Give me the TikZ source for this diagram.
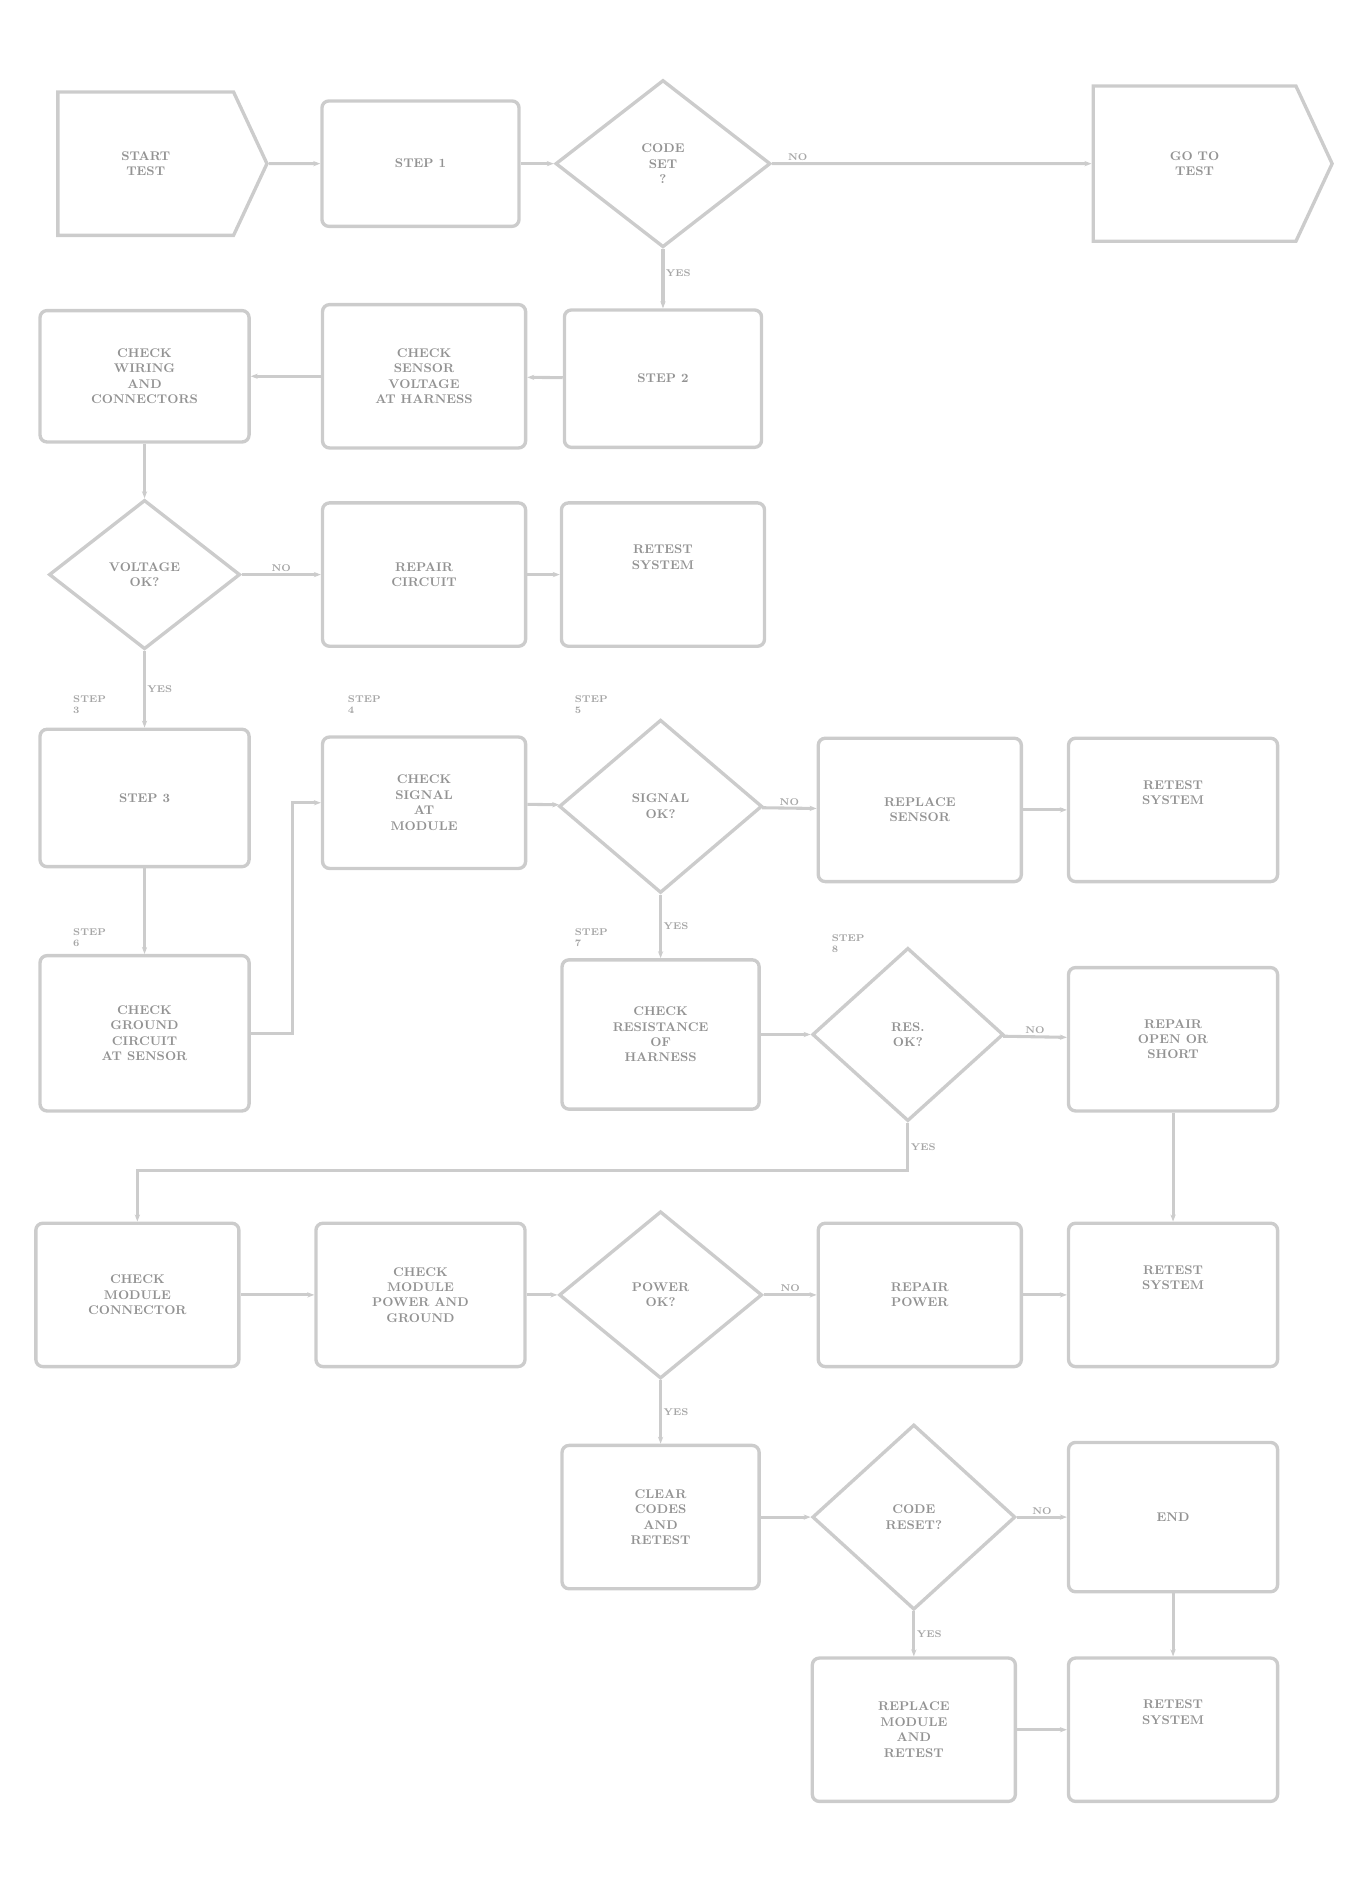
\documentclass[tikz,border=0pt]{standalone}
\usetikzlibrary{shapes.geometric,shapes.symbols,arrows.meta}

\tikzset{
    box/.style = {draw = gray!40, line width = 2.4pt, rounded corners = 5pt, align = center,
                  font = \bfseries\small, text = gray!85, inner sep = 2pt},
    ask/.style = {draw = gray!40, line width = 2.4pt, diamond, inner sep = 0pt, align = center,
                  font = \bfseries\small, text = gray!85},
    term/.style = {draw = gray!40, line width = 2.4pt, signal, signal to = east,
                   signal pointer angle = 130, align = center, inner sep = 2pt,
                   font = \bfseries\small, text = gray!85},
    link/.style = {draw = gray!40, line width = 2.2pt, -{Stealth[length = 5pt]}},
    tag/.style = {font = \bfseries\scriptsize, text = gray!70, inner sep = 1pt}
}

\begin{document}
\begin{tikzpicture}[x = 0.03cm, y = -0.03cm]
        \useasboundingbox (0, 0) rectangle (1130, 1578); % Поля страницы

        % Ряд 1
        \node [term, minimum width = 5.25cm, minimum height = 3.6cm] (start) at (122, 137) {START\\TEST};
        \node [box, minimum width = 4.95cm, minimum height = 3.15cm] (b1) at (352, 137) {STEP 1};
        \node [ask, minimum width = 5.4cm, minimum height = 4.2cm] (d1) at (555, 137) {CODE\\SET\\?};
        \node [term, minimum width = 6cm, minimum height = 3.9cm] (stop) at (1000, 137) {GO TO\\TEST};

        % Ряд 2
        \node [box, minimum width = 5.25cm, minimum height = 3.3cm] (a2) at (121, 315) {CHECK\\WIRING\\AND\\CONNECTORS};
        \node [box, minimum width = 5.1cm, minimum height = 3.6cm] (b2) at (355, 315) {CHECK\\SENSOR\\VOLTAGE\\AT HARNESS};
        \node [box, minimum width = 4.95cm, minimum height = 3.45cm] (c2) at (555, 317) {STEP 2};

        % Ряд 3
        \node [ask, minimum width = 4.8cm, minimum height = 3.75cm] (d2) at (121, 481) {VOLTAGE\\OK?};
        \node [box, minimum width = 5.1cm, minimum height = 3.6cm] (b3) at (355, 481) {REPAIR\\CIRCUIT};
        \node [box, minimum width = 5.1cm, minimum height = 3.6cm] (c3) at (555, 481) {RETEST\\SYSTEM\\[14pt]};

        % Ряд 4
        \node [box, minimum width = 5.25cm, minimum height = 3.45cm] (a4) at (121, 668) {STEP 3};
        \node [box, minimum width = 5.1cm, minimum height = 3.3cm] (b4) at (355, 672) {CHECK\\SIGNAL\\AT\\MODULE};
        \node [ask, minimum width = 5.1cm, minimum height = 4.35cm] (d3) at (553, 675) {SIGNAL\\OK?};
        \node [box, minimum width = 5.1cm, minimum height = 3.6cm] (e4) at (770, 678) {REPLACE\\SENSOR};
        \node [box, minimum width = 5.25cm, minimum height = 3.6cm] (f4) at (982, 678) {RETEST\\SYSTEM\\[14pt]};

        % Ряд 5
        \node [box, minimum width = 5.25cm, minimum height = 3.9cm] (a5) at (121, 865) {CHECK\\GROUND\\CIRCUIT\\AT SENSOR};
        \node [box, minimum width = 4.95cm, minimum height = 3.75cm] (c5) at (553, 866) {CHECK\\RESISTANCE\\OF\\HARNESS};
        \node [ask, minimum width = 4.8cm, minimum height = 4.35cm] (d4) at (760, 866) {RES.\\OK?};
        \node [box, minimum width = 5.25cm, minimum height = 3.6cm] (f5) at (982, 870) {REPAIR\\OPEN OR\\SHORT};

        % Ряд 6
        \node [box, minimum width = 5.1cm, minimum height = 3.6cm] (a6) at (115, 1084) {CHECK\\MODULE\\CONNECTOR};
        \node [box, minimum width = 5.25cm, minimum height = 3.6cm] (b6) at (352, 1084) {CHECK\\MODULE\\POWER AND\\GROUND};
        \node [ask, minimum width = 5.1cm, minimum height = 4.2cm] (d5) at (553, 1084) {POWER\\OK?};
        \node [box, minimum width = 5.1cm, minimum height = 3.6cm] (e6) at (770, 1084) {REPAIR\\POWER};
        \node [box, minimum width = 5.25cm, minimum height = 3.6cm] (f6) at (982, 1084) {RETEST\\SYSTEM\\[14pt]};

        % Ряд 7
        \node [box, minimum width = 4.95cm, minimum height = 3.6cm] (c7) at (553, 1270) {CLEAR\\CODES\\AND\\RETEST};
        \node [ask, minimum width = 5.1cm, minimum height = 4.65cm] (d6) at (765, 1270) {CODE\\RESET?};
        \node [box, minimum width = 5.25cm, minimum height = 3.75cm] (f7) at (982, 1270) {END};

        % Ряд 8
        \node [box, minimum width = 5.1cm, minimum height = 3.6cm] (e8) at (765, 1448) {REPLACE\\MODULE\\AND\\RETEST};
        \node [box, minimum width = 5.25cm, minimum height = 3.6cm] (f8) at (982, 1448) {RETEST\\SYSTEM\\[14pt]};

        % Надписи над блоками
        \node [tag, align = left] (t4a) at (75, 590) {STEP\\3};
        \node [tag, align = left] (t4b) at (305, 590) {STEP\\4};
        \node [tag, align = left] (t4d) at (495, 590) {STEP\\5};
        \node [tag, align = left] (t5a) at (75, 785) {STEP\\6};
        \node [tag, align = left] (t5c) at (495, 785) {STEP\\7};
        \node [tag, align = left] (t5d) at (710, 790) {STEP\\8};

        % Точки изломов
        \coordinate (a5turn) at (245, 865);
        \coordinate (d4turn) at (760, 980);

        % Соединения
        \draw [link] (start) -- (b1);
        \draw [link] (b1) -- (d1);
        \draw [link] (d1) -- node [tag, above, pos = 0.08] {NO} (stop);
        \draw [link] (d1) -- node [tag, right, pos = 0.4] {YES} (c2);
        \draw [link] (c2) -- (b2);
        \draw [link] (b2) -- (a2);
        \draw [link] (a2) -- (d2);
        \draw [link] (d2) -- node [tag, above] {NO} (b3);
        \draw [link] (b3) -- (c3);
        \draw [link] (d2) -- node [tag, right] {YES} (a4);
        \draw [link] (a4) -- (a5);
        \draw [link] (a5) -- (a5turn) |- (b4);
        \draw [link] (b4) -- (d3);
        \draw [link] (d3) -- node [tag, above] {NO} (e4);
        \draw [link] (e4) -- (f4);
        \draw [link] (d3) -- node [tag, right] {YES} (c5);
        \draw [link] (c5) -- (d4);
        \draw [link] (d4) -- node [tag, above] {NO} (f5);
        \draw [link] (f5) -- (f6);
        \draw [link] (d4) -- node [tag, right] {YES} (d4turn) -| (a6);
        \draw [link] (a6) -- (b6);
        \draw [link] (b6) -- (d5);
        \draw [link] (d5) -- node [tag, above] {NO} (e6);
        \draw [link] (e6) -- (f6);
        \draw [link] (d5) -- node [tag, right] {YES} (c7);
        \draw [link] (c7) -- (d6);
        \draw [link] (d6) -- node [tag, above] {NO} (f7);
        \draw [link] (f7) -- (f8);
        \draw [link] (d6) -- node [tag, right] {YES} (e8);
        \draw [link] (e8) -- (f8);
    \end{tikzpicture}
\end{document}
